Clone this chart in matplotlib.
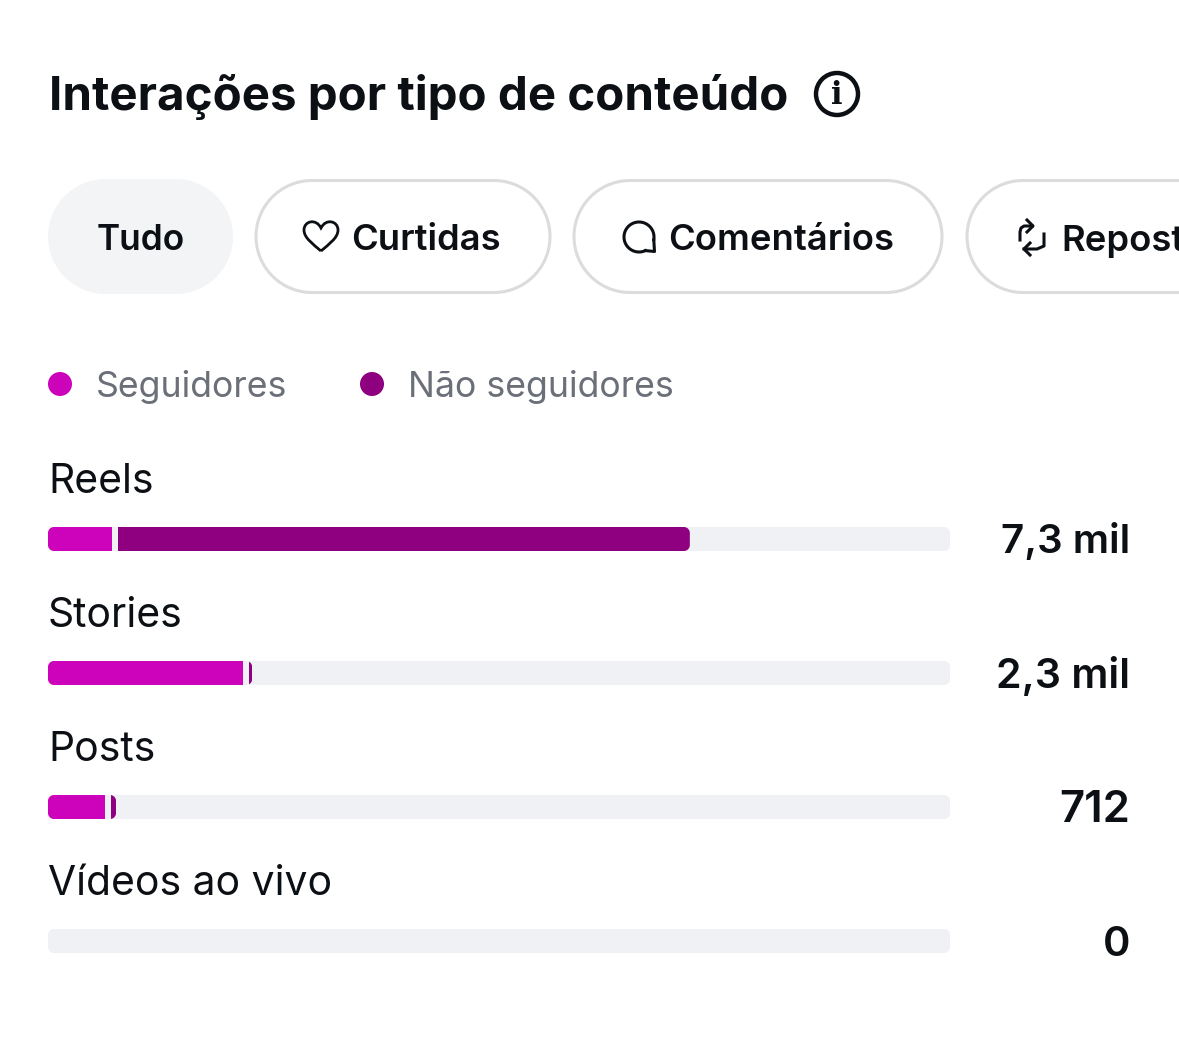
import numpy as np
import matplotlib
matplotlib.use('Agg')
import matplotlib.pyplot as plt
from matplotlib.patches import Circle, PathPatch
from matplotlib.path import Path

plt.rcParams['font.family'] = ['Inter', 'DejaVu Sans']

# data
categories = ['Reels', 'Stories', 'Posts', 'Vídeos ao vivo']
value_labels = ['7,3 mil', '2,3 mil', '712', '0']
seguidores = [735, 2240, 655, 0]
nao_seguidores = [6565, 35, 57, 0]
legend_names = ['Seguidores', 'Não seguidores']
tabs = ['Tudo', 'Curtidas', 'Comentários', 'Reposts']
title = 'Interações por tipo de conteúdo'

PINK = '#cc03bb'
PURPLE = '#8e0080'
TRACK = '#f0f1f5'
DARK = '#0c1014'
GREY = '#6b6f78'
AXIS_MAX = 10356
GAP = 69

fig = plt.figure(figsize=(11.79, 10.51), dpi=100)
bg = fig.add_axes([0, 0, 1, 1])
bg.set_xlim(0, 1179)
bg.set_ylim(1051, 0)
bg.axis('off')


def round_box(x0, y0, x1, y1, r):
    # true circular corners, FancyBboxPatch only gives squarish ones
    pts = []
    for cx, cy, start in [(x1 - r, y1 - r, 0), (x0 + r, y1 - r, 90), (x0 + r, y0 + r, 180), (x1 - r, y0 + r, 270)]:
        t = np.radians(np.linspace(start, start + 90, 24))
        pts.extend(zip(cx + r * np.cos(t), cy + r * np.sin(t)))
    return Path(pts + [pts[0]], closed=True)


def pill(x0, y0, x1, y1, r, **kw):
    p = PathPatch(round_box(x0, y0, x1, y1, r), **kw)
    bg.add_patch(p)
    return p


# title
bg.text(49, 92, title, fontsize=34.15, fontweight='bold', color=DARK, va='center_baseline')
bg.add_patch(Circle((837, 94), 21, fc='none', ec=DARK, lw=3.2))
bg.text(837, 95, 'i', fontsize=22, fontweight='bold', color=DARK, ha='center', va='center', family='DejaVu Serif')

# tabs
pill(48, 179, 233, 294, 57.5, fc='#f3f4f6', ec='none')
pill(256, 180.5, 550, 292.5, 56, fc='white', ec='#dcdcdc', lw=2.2)
pill(574, 180.5, 942, 292.5, 56, fc='white', ec='#dcdcdc', lw=2.2)
pill(967, 180.5, 1260, 292.5, 56, fc='white', ec='#dcdcdc', lw=2.2)
tab_x = [96.5, 351, 668.5, 1061.5]
tab_size = [25.4, 26.2, 26.2, 26.2]
for t, x, s in zip(tabs, tab_x, tab_size):
    bg.text(x, 237.5, t, fontsize=s, fontweight='semibold', color=DARK, va='center_baseline', clip_on=True)

# heart icon
hx, hy = 321, 236
heart = Path([(hx, hy + 15),
              (hx - 8, hy + 8), (hx - 17, hy + 2), (hx - 17, hy - 6),
              (hx - 17, hy - 15), (hx - 5, hy - 18), (hx, hy - 8),
              (hx + 5, hy - 18), (hx + 17, hy - 15), (hx + 17, hy - 6),
              (hx + 17, hy + 2), (hx + 8, hy + 8), (hx, hy + 15)],
             [Path.MOVETO] + [Path.CURVE4] * 12)
bg.add_patch(PathPatch(heart, fc='none', ec=DARK, lw=2))

# comment icon
a = np.radians(np.arange(65, 371, 5))
bg.plot(639 + 15 * np.cos(a), 237 + 15 * np.sin(a), color=DARK, lw=2.2)
bg.plot([653.8, 654.5, 645.5], [240, 251.5, 250.6], color=DARK, lw=2.2, solid_joinstyle='round')

# repost icon
bg.plot([1032, 1024, 1021, 1020, 1020], [226, 226, 228, 232, 240], color=DARK, lw=2.2)
bg.plot([1027, 1033, 1027], [220, 226, 232], color=DARK, lw=2.2)
bg.plot([1024, 1037, 1044, 1044, 1044], [249, 249, 246, 242, 234], color=DARK, lw=2.2)
bg.plot([1030, 1024, 1030], [243, 249, 255], color=DARK, lw=2.2)

# legend
for cx, tx, name, col in zip([60, 372], [96, 408], legend_names, [PINK, PURPLE]):
    bg.add_patch(Circle((cx, 384), 12, fc=col, ec='none'))
    bg.text(tx, 383, name, fontsize=25.7, color=GREY, va='center_baseline')

# bars
track_top = [527, 661, 795, 929]
label_y = [478, 612, 746, 880]
value_size = [29, 29.6, 31.5, 30]
bar_h = 24
for i in range(len(categories)):
    ax = fig.add_axes([48 / 1179, 1 - (track_top[i] + bar_h) / 1051, 902 / 1179, bar_h / 1051])
    ax.set_xlim(0, AXIS_MAX)
    ax.set_ylim(-0.5, 0.5)
    ax.axis('off')
    track = pill(48, track_top[i], 950, track_top[i] + bar_h, 6, fc=TRACK, ec='none')
    bg.text(48, label_y[i], categories[i], fontsize=29.4, color=DARK, va='center_baseline')
    bg.text(1130, label_y[i] + 60.5, value_labels[i], fontsize=value_size[i], fontweight='semibold', color=DARK,
            ha='right', va='center_baseline')
    if seguidores[i] == 0:
        continue
    b1 = ax.barh(0, seguidores[i], height=1, color=PINK)[0]
    b2 = ax.barh(0, nao_seguidores[i], left=seguidores[i] + GAP, height=1, color=PURPLE)[0]
    b1.set_clip_path(track)
    # right end of the purple part is rounded, left end stays square
    end_px = 48 + (seguidores[i] + GAP + nao_seguidores[i]) * 902 / AXIS_MAX
    b2.set_clip_path(round_box(28, track_top[i], end_px, track_top[i] + bar_h, 6), bg.transData)

fig.savefig('out.png', dpi=100)
